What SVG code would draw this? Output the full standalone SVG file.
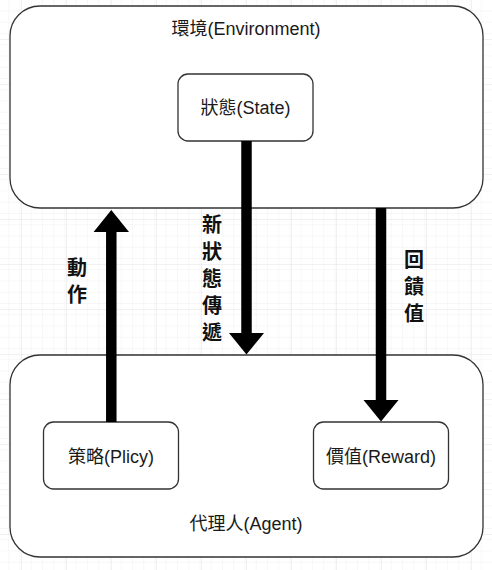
<svg xmlns="http://www.w3.org/2000/svg" width="492" height="570" viewBox="0 0 492 570">
  <style>
    .box { fill: #ffffff; stroke: #333333; stroke-width: 1.3; }
    .title { font-family: "Liberation Sans", "Noto Sans CJK TC", sans-serif; font-size: 18px; fill: #1a1a1a; text-anchor: middle; dominant-baseline: central; }
    .label { font-family: "Liberation Sans", "Noto Sans CJK TC", sans-serif; font-size: 20px; font-weight: bold; fill: #111111; text-anchor: middle; dominant-baseline: central; }
    .shaft { stroke: #000000; stroke-width: 10.5; fill: none; }
    .head { fill: #000000; }
  </style>
  <defs>
    <pattern id="gridMinor" x="9.75" y="5.25" width="11.25" height="11.25" patternUnits="userSpaceOnUse">
      <path d="M 0 0 L 11.25 0 M 0 0 L 0 11.25" stroke="#f0f0f0" stroke-width="1" fill="none"/>
    </pattern>
    <pattern id="gridMajor" x="21" y="39" width="45" height="45" patternUnits="userSpaceOnUse">
      <rect width="45" height="45" fill="url(#gridMinor)"/>
      <path d="M 0 0 L 45 0 M 0 0 L 0 45" stroke="#e3e3e3" stroke-width="1" fill="none"/>
    </pattern>
  </defs>

  <!-- background grid -->
  <rect width="492" height="570" fill="#ffffff"/>
  <rect width="492" height="570" fill="url(#gridMajor)"/>

  <!-- environment container -->
  <g id="environment">
    <rect class="box" x="10" y="6" width="473" height="202" rx="30" ry="30"/>
    <text class="title" x="246" y="29" font-size="19">環境(Environment)</text>
  </g>

  <!-- agent container -->
  <g id="agent">
    <rect class="box" x="10" y="355" width="473" height="202" rx="30" ry="30"/>
    <text class="title" x="246" y="524" font-size="18.5">代理人(Agent)</text>
  </g>

  <g id="state">
    <rect class="box" x="178" y="74" width="135" height="67" rx="10" ry="10"/>
    <text class="title" x="245.5" y="108" font-size="17">狀態(State)</text>
  </g>

  <g id="policy">
    <rect class="box" x="43.5" y="422" width="135" height="67" rx="10" ry="10"/>
    <text class="title" x="111" y="457" font-size="17">策略(Plicy)</text>
  </g>

  <g id="reward">
    <rect class="box" x="313.5" y="422" width="135" height="67" rx="10" ry="10"/>
    <text class="title" x="381" y="457" font-size="17">價值(Reward)</text>
  </g>

  <!-- connectors -->
  <g id="connectors">
    <!-- action: policy up to environment -->
    <line class="shaft" x1="111.3" y1="422" x2="111.3" y2="230"/>
    <polygon class="head" points="111.3,210 129,232 93.6,232"/>
    <!-- new state: state down to agent -->
    <line class="shaft" x1="246.5" y1="141" x2="246.5" y2="335"/>
    <polygon class="head" points="246.5,354.5 264,333 229,333"/>
    <!-- feedback: environment down to reward -->
    <line class="shaft" x1="381" y1="208" x2="381" y2="402"/>
    <polygon class="head" points="381,421.5 398.5,400 363.5,400"/>
  </g>

  <!-- connector labels -->
  <g id="label-action">
    <text class="label" x="77" y="268">動</text>
    <text class="label" x="77" y="295">作</text>
  </g>
  <g id="label-new-state">
    <text class="label" x="212" y="225">新</text>
    <text class="label" x="212" y="252">狀</text>
    <text class="label" x="212" y="279">態</text>
    <text class="label" x="212" y="306">傳</text>
    <text class="label" x="212" y="333">遞</text>
  </g>
  <g id="label-feedback">
    <text class="label" x="414" y="260">回</text>
    <text class="label" x="414" y="287">饋</text>
    <text class="label" x="414" y="314">值</text>
  </g>
</svg>
